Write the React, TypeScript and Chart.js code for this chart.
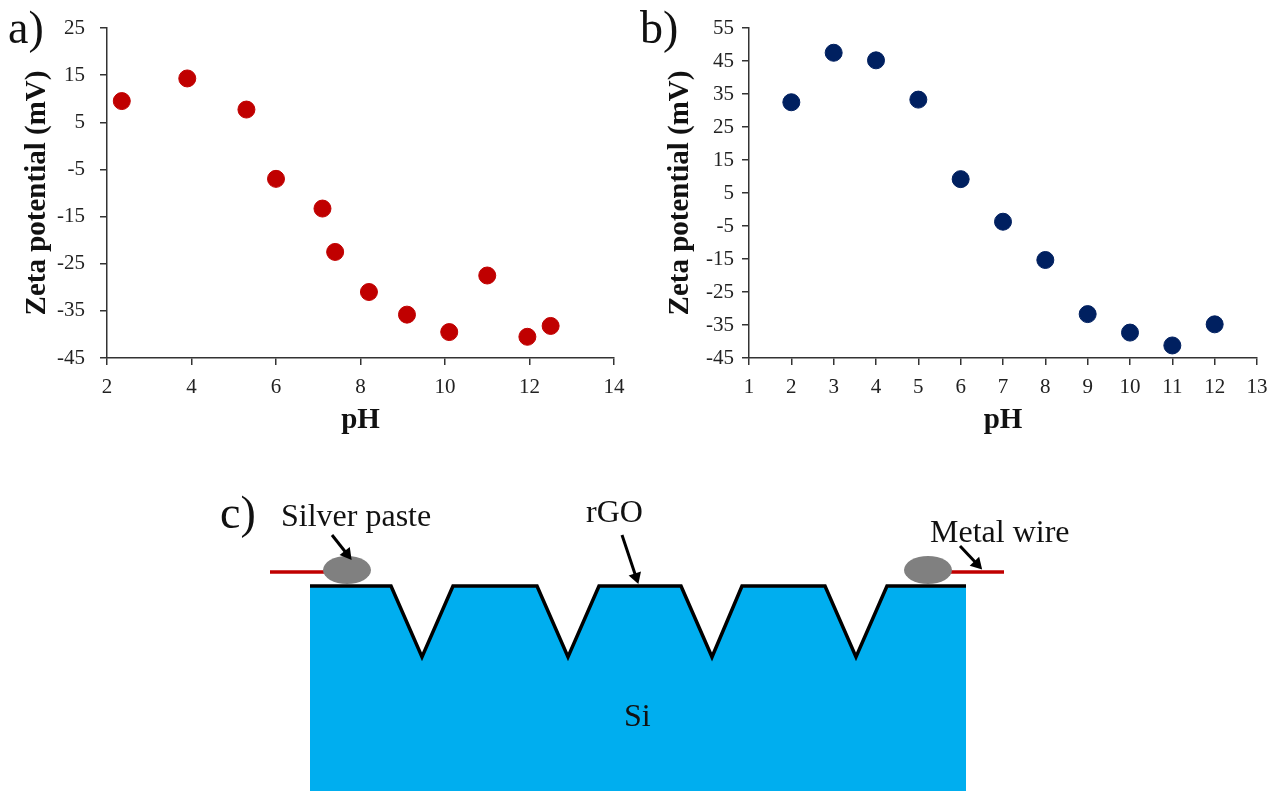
import React, { useEffect, useRef } from "react";
import { Chart, registerables } from "chart.js";

Chart.register(...registerables);

const phA = [2.35, 3.9, 5.3, 6, 7.1, 7.4, 8.2, 9.1, 10.1, 11, 11.95, 12.5];
const zetaA = [9.5, 14.3, 7.7, -7, -13.3, -22.5, -31, -35.8, -39.5, -27.5, -40.5, -38.2];
const xTicksA = [2, 4, 6, 8, 10, 12, 14];
const yTicksA = [-45, -35, -25, -15, -5, 5, 15, 25];

const phB = [2, 3, 4, 5, 6, 7, 8, 9, 10, 11, 12];
const zetaB = [32.5, 47.5, 45.2, 33.3, 9.2, -3.7, -15.3, -31.7, -37.3, -41.2, -34.8];
const xTicksB = [1, 2, 3, 4, 5, 6, 7, 8, 9, 10, 11, 12, 13];
const yTicksB = [-45, -35, -25, -15, -5, 5, 15, 25, 35, 45, 55];

const profileX = [310, 391, 422, 453, 537, 568, 599, 681, 712, 742, 825, 856, 887, 966];
const profileY = [586, 586, 657, 586, 586, 657, 586, 586, 657, 586, 586, 657, 586, 586];
const wireLeftX = [270, 326];
const wireRightX = [950, 1004];
const wireY = [572, 572];
const pasteX = [347, 928];
const pasteY = [570, 570];
const arrowPaste = { x: [332, 347], y: [535, 554] };
const arrowRgo = { x: [622, 636], y: [535, 577] };
const arrowWire = { x: [960, 977], y: [546, 564] };

const SERIF = "'Liberation Serif', 'Times New Roman', serif";

function makeScatter(
  canvas: HTMLCanvasElement,
  xs: number[],
  ys: number[],
  color: string,
  xTicks: number[],
  yTicks: number[],
  axisLeft: number,
  plotRight: number,
  width: number,
  yLabelPad: number,
  yTitlePad: number
) {
  const axis = (ticks: number[], title: string, titlePadding: any, labelPad: number, afterFit: (s: any) => void) => ({
    type: "linear" as const,
    min: ticks[0],
    max: ticks[ticks.length - 1],
    afterBuildTicks: (s: any) => {
      s.ticks = ticks.map((value) => ({ value }));
    },
    afterFit,
    grid: { drawOnChartArea: false, drawTicks: true, tickLength: 7, color: "#333", lineWidth: 1.5 },
    border: { display: true, color: "#333", width: 1.5 },
    ticks: {
      color: "#222",
      padding: labelPad,
      autoSkip: false,
      maxRotation: 0,
      font: { family: SERIF, size: 21 },
    },
    title: {
      display: true,
      text: title,
      color: "#111",
      padding: titlePadding,
      font: { family: SERIF, size: 29, weight: "bold" as const },
    },
  });
  return new Chart(canvas, {
    type: "scatter",
    data: {
      datasets: [
        {
          data: xs.map((x, i) => ({ x, y: ys[i] })),
          backgroundColor: color,
          borderColor: color,
          pointRadius: 8.5,
          pointHoverRadius: 8.5,
        },
      ],
    },
    options: {
      responsive: false,
      animation: false,
      layout: { autoPadding: false, padding: { top: 28, right: width - plotRight, left: 0, bottom: 0 } },
      plugins: { legend: { display: false }, tooltip: { enabled: false } },
      scales: {
        x: axis(xTicks, "pH", { top: 0, bottom: 12 }, 10, (s: any) => {
          s.height = 92;
        }),
        y: axis(yTicks, "Zeta potential (mV)", { top: yTitlePad, bottom: 0 }, yLabelPad, (s: any) => {
          s.width = axisLeft;
        }),
      },
    },
  });
}

function ellipseSprite(color: string, rx: number, ry: number) {
  const c = document.createElement("canvas");
  c.width = rx * 2;
  c.height = ry * 2;
  const g = c.getContext("2d")!;
  g.fillStyle = color;
  g.beginPath();
  g.ellipse(rx, ry, rx, ry, 0, 0, Math.PI * 2);
  g.fill();
  return c;
}

function arrowDataset(a: { x: number[]; y: number[] }) {
  const angle = (Math.atan2(a.y[1] - a.y[0], a.x[1] - a.x[0]) * 180) / Math.PI + 90;
  return {
    data: a.x.map((x, i) => ({ x, y: a.y[i] })),
    showLine: true,
    borderColor: "#000",
    backgroundColor: "#000",
    borderWidth: 3,
    pointStyle: "triangle" as const,
    pointRadius: [0, 7.5],
    pointRotation: angle,
    pointBorderWidth: 0,
    order: 1,
  };
}

function makeDiagram(canvas: HTMLCanvasElement) {
  const profile = profileX.map((x, i) => ({ x, y: profileY[i] }));
  const line = (xs: number[], ys: number[], color: string, w: number, order: number) => ({
    data: xs.map((x, i) => ({ x, y: ys[i] })),
    showLine: true,
    borderColor: color,
    borderWidth: w,
    pointRadius: 0,
    order,
  });
  return new Chart(canvas, {
    type: "scatter",
    data: {
      datasets: [
        {
          data: profile,
          showLine: true,
          borderWidth: 0,
          borderColor: "rgba(0,0,0,0)",
          backgroundColor: "#00AEEF",
          fill: { value: 791 },
          pointRadius: 0,
          order: 6,
        },
        {
          ...line(profileX, profileY, "#000", 3.5, 5),
          borderJoinStyle: "miter" as const,
        },
        line(wireLeftX, wireY, "#C00000", 3.5, 4),
        line(wireRightX, wireY, "#C00000", 3.5, 4),
        {
          data: pasteX.map((x, i) => ({ x, y: pasteY[i] })),
          pointStyle: ellipseSprite("#808080", 24, 14),
          pointRadius: 14,
          order: 2,
        },
        arrowDataset(arrowPaste),
        arrowDataset(arrowRgo),
        arrowDataset(arrowWire),
      ],
    },
    options: {
      responsive: false,
      animation: false,
      layout: { autoPadding: false, padding: 0 },
      plugins: { legend: { display: false }, tooltip: { enabled: false } },
      scales: {
        x: { type: "linear", display: false, min: 0, max: 1279 },
        y: { type: "linear", display: false, min: 0, max: 791, reverse: true },
      },
    },
  });
}

const labels: { text: string; left: number; top: number; size: number }[] = [
  { text: "a)", left: 8, top: 5, size: 46 },
  { text: "b)", left: 640, top: 5, size: 46 },
  { text: "c)", left: 220, top: 490, size: 46 },
  { text: "Silver paste", left: 281, top: 499, size: 32 },
  { text: "rGO", left: 586, top: 495, size: 32 },
  { text: "Metal wire", left: 930, top: 515, size: 32 },
  { text: "Si", left: 624, top: 699, size: 32 },
];

export default function App() {
  const refA = useRef<HTMLCanvasElement>(null);
  const refB = useRef<HTMLCanvasElement>(null);
  const refC = useRef<HTMLCanvasElement>(null);

  useEffect(() => {
    const charts = [
      makeDiagram(refC.current!),
      makeScatter(refA.current!, phA, zetaA, "#C00000", xTicksA, yTicksA, 107, 614, 640, 15, 20),
      makeScatter(refB.current!, phB, zetaB, "#002060", xTicksB, yTicksB, 119, 627, 649, 8, 33),
    ];
    return () => charts.forEach((c) => c.destroy());
  }, []);

  const abs = { position: "absolute" as const, display: "block" };
  return (
    <div style={{ position: "absolute", left: 0, top: 0, width: 1279, height: 791, overflow: "hidden", background: "#fff" }}>
      <canvas ref={refC} width={1279} height={791} style={{ ...abs, left: 0, top: 0, width: 1279, height: 791 }} />
      <canvas ref={refA} width={640} height={450} style={{ ...abs, left: 0, top: 0, width: 640, height: 450 }} />
      <canvas ref={refB} width={649} height={450} style={{ ...abs, left: 630, top: 0, width: 649, height: 450 }} />
      {labels.map((l) => (
        <div
          key={l.text}
          style={{
            position: "absolute",
            left: l.left,
            top: l.top,
            fontFamily: SERIF,
            fontSize: l.size,
            lineHeight: 1,
            color: "#111",
            whiteSpace: "nowrap",
          }}
        >
          {l.text}
        </div>
      ))}
    </div>
  );
}
